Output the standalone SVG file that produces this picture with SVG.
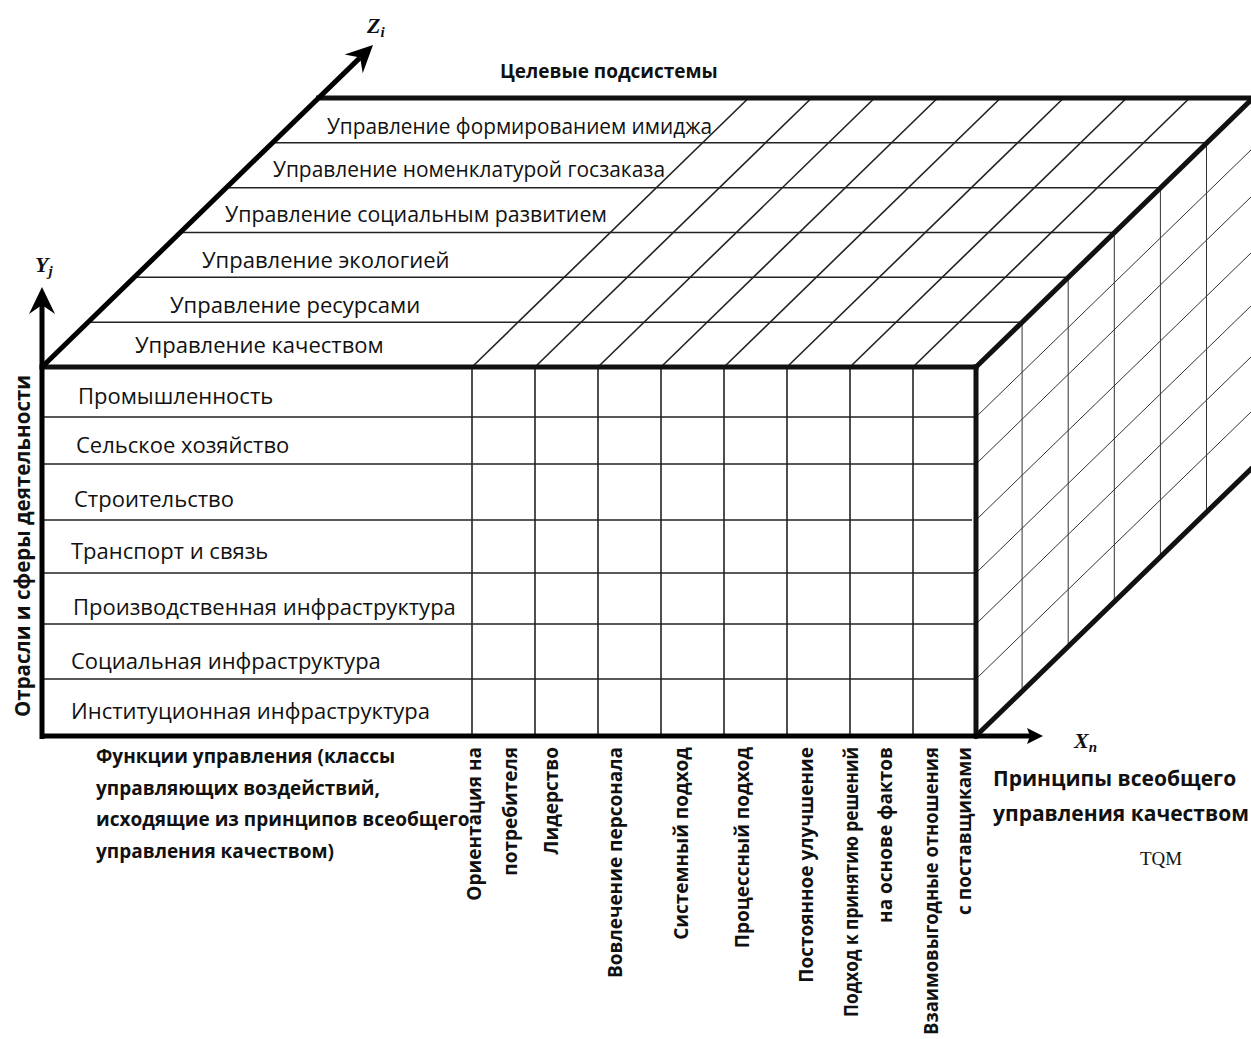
<svg xmlns="http://www.w3.org/2000/svg" width="1251" height="1039" viewBox="0 0 1251 1039">
  <style>
    .thick { stroke: #111; stroke-width: 5; fill: none; stroke-linecap: square; }
    .axis { stroke: #000; stroke-width: 5; fill: none; }
    .grid { stroke: #222; stroke-width: 1.6; fill: none; }
    .side { stroke: #333; stroke-width: 1; fill: none; }
    .lbl { font-family: "Open Sans", "Liberation Sans", sans-serif; font-size: 22px; fill: #111; }
    .bold { font-family: "Open Sans", "Liberation Sans", sans-serif; font-size: 19px; font-weight: bold; fill: #111; }
    .big { font-size: 21px; }
    .var { font-family: "Liberation Serif", "Times New Roman", serif; font-style: italic; font-weight: bold; font-size: 22px; fill: #111; }
    .sub { font-size: 15px; }
    .tqm { font-family: "Liberation Serif", "Times New Roman", serif; font-size: 19px; fill: #111; }
  </style>
  <defs>
    <marker id="barb" viewBox="-28 -14 30 28" markerWidth="30" markerHeight="28" markerUnits="userSpaceOnUse" refX="-18" refY="0" orient="auto">
      <path d="M0,0 L-27,-13 L-18,0 L-27,13 Z" fill="#000"/>
    </marker>
    <marker id="tri" viewBox="-16 -9 17 18" markerWidth="17" markerHeight="18" markerUnits="userSpaceOnUse" refX="-13" refY="0" orient="auto">
      <path d="M0,0 L-16,-8 L-13,0 L-16,8 Z" fill="#000"/>
    </marker>
  </defs>
  <rect width="1251" height="1039" fill="#fff"/>

  <!-- top face: rows of target subsystems -->
  <g id="top-face">
    <g class="grid">
      <line x1="88" y1="322.2" x2="1022" y2="322.2"/>
      <line x1="134" y1="277.3" x2="1068" y2="277.3"/>
      <line x1="180" y1="232.5" x2="1114" y2="232.5"/>
      <line x1="226" y1="187.7" x2="1160" y2="187.7"/>
      <line x1="272" y1="142.8" x2="1206" y2="142.8"/>
      <!-- receding column lines -->
      <line x1="472" y1="367" x2="748.6" y2="98"/>
      <line x1="535" y1="367" x2="811.6" y2="98"/>
      <line x1="598" y1="367" x2="874.6" y2="98"/>
      <line x1="661" y1="367" x2="937.6" y2="98"/>
      <line x1="724" y1="367" x2="1000.6" y2="98"/>
      <line x1="787" y1="367" x2="1063.6" y2="98"/>
      <line x1="850" y1="367" x2="1126.6" y2="98"/>
      <line x1="913" y1="367" x2="1189.6" y2="98"/>
    </g>
    <text class="lbl" x="327" y="134" textLength="385" lengthAdjust="spacingAndGlyphs">Управление формированием имиджа</text>
    <text class="lbl" x="273" y="177" textLength="392" lengthAdjust="spacingAndGlyphs">Управление номенклатурой госзаказа</text>
    <text class="lbl" x="225" y="222" textLength="382" lengthAdjust="spacingAndGlyphs">Управление социальным развитием</text>
    <text class="lbl" x="202" y="268">Управление экологией</text>
    <text class="lbl" x="170" y="313">Управление ресурсами</text>
    <text class="lbl" x="135" y="353">Управление качеством</text>
  </g>

  <!-- right face: depth grid -->
  <g id="right-face" class="side">
    <line x1="976" y1="417" x2="1253" y2="148"/>
    <line x1="976" y1="464" x2="1253" y2="195"/>
    <line x1="976" y1="520" x2="1253" y2="251"/>
    <line x1="976" y1="573" x2="1253" y2="304"/>
    <line x1="976" y1="624" x2="1253" y2="355"/>
    <line x1="976" y1="679" x2="1253" y2="410"/>
    <line x1="1022.1" y1="322.2" x2="1022.1" y2="691.2"/>
    <line x1="1068.2" y1="277.3" x2="1068.2" y2="646.3"/>
    <line x1="1114.3" y1="232.5" x2="1114.3" y2="601.5"/>
    <line x1="1160.4" y1="187.7" x2="1160.4" y2="556.7"/>
    <line x1="1206.5" y1="142.8" x2="1206.5" y2="511.8"/>
  </g>

  <!-- front face: sectors by management functions -->
  <g id="front-face">
    <g class="grid">
      <line x1="42" y1="417" x2="976" y2="417"/>
      <line x1="42" y1="464" x2="976" y2="464"/>
      <line x1="42" y1="520" x2="972" y2="520"/>
      <line x1="42" y1="573" x2="976" y2="573"/>
      <line x1="42" y1="624" x2="976" y2="624"/>
      <line x1="42" y1="679" x2="976" y2="679"/>
      <line x1="472" y1="367" x2="472" y2="736"/>
      <line x1="535" y1="367" x2="535" y2="736"/>
      <line x1="598" y1="367" x2="598" y2="736"/>
      <line x1="661" y1="367" x2="661" y2="736"/>
      <line x1="724" y1="367" x2="724" y2="736"/>
      <line x1="787" y1="367" x2="787" y2="736"/>
      <line x1="850" y1="367" x2="850" y2="736"/>
      <line x1="913" y1="367" x2="913" y2="736"/>
    </g>
    <text class="lbl" x="78" y="404">Промышленность</text>
    <text class="lbl" x="76" y="453">Сельское хозяйство</text>
    <text class="lbl" x="74" y="507">Строительство</text>
    <text class="lbl" x="71" y="559">Транспорт и связь</text>
    <text class="lbl" x="73" y="615">Производственная инфраструктура</text>
    <text class="lbl" x="71" y="669">Социальная инфраструктура</text>
    <text class="lbl" x="71" y="719">Институционная инфраструктура</text>
  </g>

  <!-- cube outline -->
  <g id="cube-edges" class="thick">
    <line x1="318.6" y1="98" x2="1256" y2="98"/>
    <line x1="42" y1="367" x2="976" y2="367"/>
    <line x1="976" y1="367" x2="976" y2="736"/>
    <line x1="976" y1="367" x2="1253" y2="98"/>
    <line x1="976" y1="736" x2="1253" y2="467"/>
  </g>

  <!-- coordinate axes -->
  <g id="axes">
    <line class="axis" x1="42" y1="739" x2="42" y2="305" marker-end="url(#barb)"/>
    <line class="axis" x1="42" y1="367" x2="360.1" y2="57.6" marker-end="url(#barb)"/>
    <line class="axis" x1="40" y1="736" x2="1030" y2="736" marker-end="url(#tri)"/>
    <text class="var" x="367" y="33">Z<tspan class="sub" dy="4">i</tspan></text>
    <text class="var" x="35" y="272">Y<tspan class="sub" dy="4">j</tspan></text>
    <text class="var" x="1074" y="748">X<tspan class="sub" dy="4">n</tspan></text>
  </g>

  <!-- axis captions -->
  <g id="captions">
    <text class="bold" x="500" y="78">Целевые подсистемы</text>
    <text class="bold" transform="translate(30,546) rotate(-90)" text-anchor="middle" style="font-size:20.5px">Отрасли и сферы деятельности</text>
    <text class="bold" x="96" y="763">Функции управления (классы</text>
    <text class="bold" x="96" y="795">управляющих воздействий,</text>
    <text class="bold" x="96" y="826">исходящие из принципов всеобщего</text>
    <text class="bold" x="96" y="858">управления качеством)</text>
    <text class="bold big" x="993" y="786">Принципы всеобщего</text>
    <text class="bold big" x="993" y="821">управления качеством</text>
    <text class="tqm" x="1140" y="865">TQM</text>
  </g>

  <!-- principle labels under the front face -->
  <g id="principles" class="bold" text-anchor="end">
    <text transform="translate(481,747) rotate(-90)">Ориентация на</text>
    <text transform="translate(517,747) rotate(-90)">потребителя</text>
    <text transform="translate(558,747) rotate(-90)">Лидерство</text>
    <text transform="translate(622,747) rotate(-90)">Вовлечение персонала</text>
    <text transform="translate(688,747) rotate(-90)">Системный подход</text>
    <text transform="translate(749,747) rotate(-90)">Процессный подход</text>
    <text transform="translate(813,747) rotate(-90)">Постоянное улучшение</text>
    <text transform="translate(858,747) rotate(-90)" textLength="270" lengthAdjust="spacingAndGlyphs">Подход к принятию решений</text>
    <text transform="translate(892,747) rotate(-90)">на основе фактов</text>
    <text transform="translate(938,747) rotate(-90)" textLength="288" lengthAdjust="spacingAndGlyphs">Взаимовыгодные отношения</text>
    <text transform="translate(971,747) rotate(-90)">с поставщиками</text>
  </g>
</svg>
